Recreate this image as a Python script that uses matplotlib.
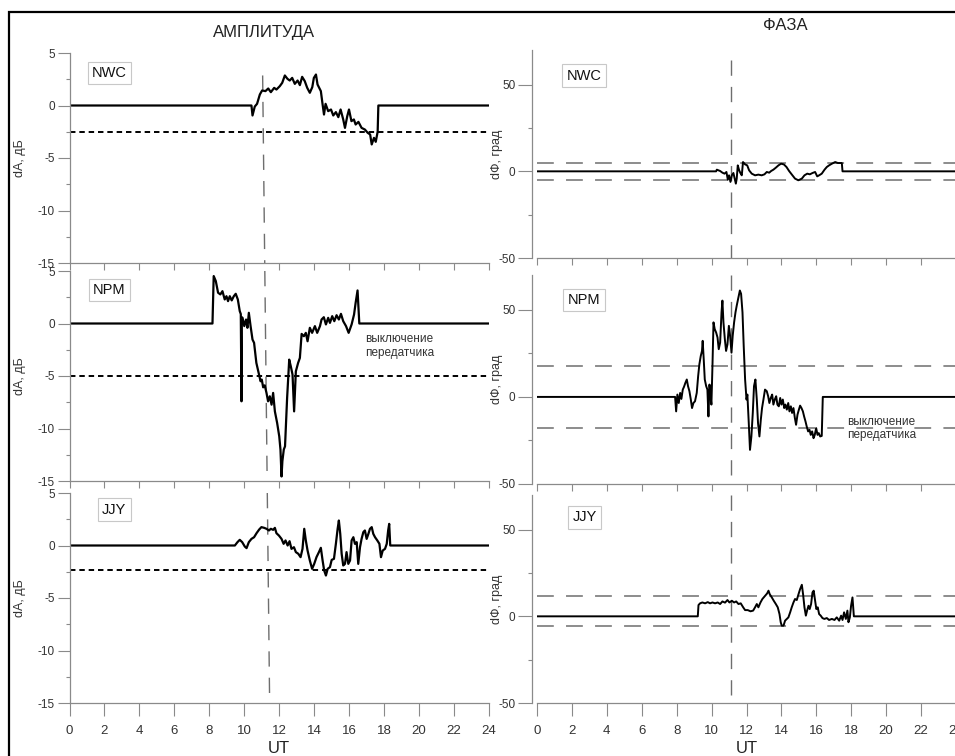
import numpy as np
import matplotlib
matplotlib.use("Agg")
import matplotlib.pyplot as plt
from matplotlib.ticker import MultipleLocator
from matplotlib.patches import Rectangle

plt.rcParams['font.family'] = ['Liberation Sans', 'DejaVu Sans']
plt.rcParams['axes.unicode_minus'] = False

# --- data: (UT hours, value) ---
amp_nwc = np.array([
    [0, 0], [10.41, 0], [10.47, -0.95], [10.6, -0.1], [10.73, 0.16], [10.89, 1.05],
    [11.02, 1.43], [11.21, 1.37], [11.37, 1.62], [11.52, 1.27], [11.71, 1.68],
    [11.84, 1.52], [12.03, 1.84], [12.17, 2.16], [12.32, 2.86], [12.47, 2.54],
    [12.6, 2.38], [12.74, 2.63], [12.89, 2.06], [13.05, 2.38], [13.18, 1.94],
    [13.31, 2.73], [13.46, 2.32], [13.6, 1.68], [13.75, 1.21], [13.89, 1.75],
    [13.98, 2.63], [14.1, 2.95], [14.19, 2.0], [14.38, 1.37], [14.48, 0.1],
    [14.56, -0.86], [14.65, 0.16], [14.8, -0.54], [14.96, -0.38], [15.09, -0.95],
    [15.24, -0.63], [15.38, -1.11], [15.51, -0.38], [15.66, -1.33], [15.76, -2.13],
    [15.89, -1.02], [15.99, -0.38], [16.13, -1.49], [16.27, -1.33], [16.37, -1.81],
    [16.53, -1.56], [16.71, -2.13], [16.9, -2.29], [17.06, -2.6], [17.2, -2.76],
    [17.29, -3.71], [17.42, -3.08], [17.52, -3.46], [17.63, -2.5], [17.67, 0],
    [24, 0]])

amp_npm = np.array([
    [0, 0], [8.18, 0], [8.25, 4.52], [8.37, 4.04], [8.5, 2.93], [8.63, 2.77],
    [8.75, 3.08], [8.88, 2.29], [8.98, 2.6], [9.07, 2.13], [9.17, 2.6], [9.28, 2.2],
    [9.4, 2.6], [9.51, 2.83], [9.63, 2.29], [9.74, 1.18], [9.8, 0.9], [9.84, -7.41],
    [9.86, 0.6], [9.9, 0.54], [10.0, -0.25], [10.1, 0.38], [10.18, -0.41],
    [10.26, 1.02], [10.36, -0.25], [10.47, -1.53], [10.56, -1.84], [10.69, -3.75],
    [10.8, -4.55], [10.93, -5.5], [11.0, -5.34], [11.08, -6.08], [11.17, -5.89],
    [11.27, -6.61], [11.36, -7.41], [11.46, -6.93], [11.56, -7.73], [11.65, -6.61],
    [11.75, -8.37], [11.88, -9.48], [12.0, -10.75], [12.07, -12.02], [12.13, -14.57],
    [12.18, -13.1], [12.26, -12.0], [12.33, -11.7], [12.45, -7.09], [12.57, -3.44],
    [12.66, -4.07], [12.76, -4.87], [12.85, -8.37], [12.95, -4.55], [13.08, -3.75],
    [13.18, -3.28], [13.28, -0.99], [13.41, -1.21], [13.52, -0.89], [13.62, -1.69],
    [13.75, -0.41], [13.88, -0.89], [14.04, -0.25], [14.17, -0.89], [14.33, -0.25],
    [14.42, 0.38], [14.55, 0.6], [14.67, -0.09], [14.8, 0.54], [14.9, 0.06],
    [15.03, 0.7], [15.15, 0.22], [15.28, 0.79], [15.41, 0.38], [15.53, 0.92],
    [15.66, 0.22], [15.82, -0.25], [15.97, -0.89], [16.14, -0.09], [16.28, 0.86],
    [16.37, 1.97], [16.48, 3.15], [16.58, 0], [24, 0]])

amp_jjy = np.array([
    [0, 0], [9.46, 0], [9.61, 0.32], [9.74, 0.54], [9.88, 0.32], [10.03, -0.1],
    [10.13, -0.25], [10.26, 0.32], [10.41, 0.63], [10.56, 0.79], [10.7, 1.17],
    [10.85, 1.52], [10.98, 1.75], [11.14, 1.68], [11.27, 1.59], [11.41, 1.43],
    [11.52, 1.59], [11.65, 1.49], [11.75, 1.68], [11.84, 1.17], [11.98, 0.95],
    [12.13, 0.63], [12.25, 0.16], [12.36, 0.48], [12.48, 0], [12.59, 0.41],
    [12.7, -0.32], [12.84, -0.16], [12.95, -0.63], [13.09, -0.79], [13.22, -1.11],
    [13.33, -0.32], [13.43, 1.59], [13.52, 0.48], [13.62, -0.48], [13.75, -1.43],
    [13.88, -2.22], [14.0, -1.75], [14.13, -1.11], [14.27, -0.63], [14.38, -0.22],
    [14.48, -1.43], [14.57, -2.38], [14.67, -2.86], [14.77, -2.22], [14.9, -2.06],
    [15.0, -1.37], [15.13, -1.27], [15.24, 0.16], [15.34, 1.59], [15.41, 2.38],
    [15.49, 1.11], [15.57, -0.79], [15.66, -1.9], [15.76, -1.75], [15.85, -0.63],
    [15.95, -1.75], [16.05, -1.43], [16.14, 0.48], [16.24, 0.79], [16.33, 0.16],
    [16.43, 0.32], [16.52, -1.75], [16.62, -0.16], [16.71, 0.63], [16.81, 1.27],
    [16.9, 1.43], [17.0, 0.63], [17.1, 1.11], [17.19, 1.59], [17.29, 1.75],
    [17.38, 1.11], [17.48, 0.79], [17.61, 0.48], [17.73, 0.16], [17.82, -1.11],
    [17.92, -0.48], [18.05, -0.32], [18.15, 0.16], [18.23, 1.43], [18.29, 2.06],
    [18.35, 0], [24, 0]])

ph_nwc = np.array([
    [0, 0], [10.26, 0], [10.3, 0.96], [10.49, 0.19], [10.62, -0.77], [10.74, -1.34],
    [10.85, -0.38], [10.93, -4.8], [11.0, -2.3], [11.08, -6.1], [11.16, -2.3],
    [11.25, -0.96], [11.31, -3.64], [11.39, -7.1], [11.44, -4.2], [11.5, 3.45],
    [11.58, 0.57], [11.65, -0.96], [11.73, -2.3], [11.8, 5.36], [11.92, 4.0],
    [12.04, 3.45], [12.15, 0.57], [12.3, -1.34], [12.49, -2.3], [12.68, -1.9],
    [12.87, -2.3], [13.03, -1.72], [13.16, -0.38], [13.3, -0.77], [13.41, 0.19],
    [13.54, 0.96], [13.68, 2.1], [13.83, 3.45], [13.98, 4.4], [14.14, 4.0],
    [14.29, 2.5], [14.44, 0.19], [14.6, -1.9], [14.78, -4.2], [14.97, -5.17],
    [15.17, -4.2], [15.32, -2.3], [15.48, -1.34], [15.63, -1.72], [15.78, -0.96],
    [15.93, -0.38], [16.05, -2.9], [16.16, -2.3], [16.31, -1.34], [16.47, 0.96],
    [16.6, 2.5], [16.73, 3.45], [16.89, 4.4], [17.08, 5.36], [17.23, 4.8],
    [17.46, 4.8], [17.5, 0], [24, 0]])

ph_npm = np.array([
    [0, 0], [7.91, 0], [7.97, -8.3], [8.04, 1.35], [8.12, -3.5], [8.2, 2.3],
    [8.27, -1.16], [8.35, 4.2], [8.42, 5.8], [8.5, 8.1], [8.58, 10.0], [8.65, 6.2],
    [8.73, 3.3], [8.81, -1.5], [8.88, -6.4], [8.96, -3.5], [9.05, -2.5], [9.15, 2.3],
    [9.23, 11.9], [9.3, 18.7], [9.38, 23.5], [9.45, 26.4], [9.49, 32.2], [9.55, 21.6],
    [9.61, 10.0], [9.69, 6.2], [9.76, 4.2], [9.82, -11.2], [9.88, 7.1], [9.93, 1.35],
    [9.99, -4.4], [10.05, 17.7], [10.11, 42.8], [10.18, 38.9], [10.26, 37.0],
    [10.34, 34.1], [10.41, 27.4], [10.49, 31.2], [10.57, 48.6], [10.62, 55.3],
    [10.68, 42.8], [10.76, 33.1], [10.83, 26.4], [10.91, 30.2], [10.99, 40.8],
    [11.06, 35.1], [11.14, 25.4], [11.21, 35.1], [11.29, 42.8], [11.37, 48.6],
    [11.44, 52.4], [11.52, 56.3], [11.62, 61.1], [11.69, 59.2], [11.77, 48.6],
    [11.84, 29.3], [11.92, 10.0], [12.0, -1.5], [12.05, 1.35], [12.13, -15.0],
    [12.2, -30.4], [12.28, -22.7], [12.36, -9.2], [12.43, 6.2], [12.51, 10.0],
    [12.59, -1.5], [12.66, -15.0], [12.74, -22.7], [12.82, -13.1], [12.89, -6.4],
    [12.97, -1.5], [13.06, 4.2], [13.16, 3.3], [13.24, 0.4], [13.31, -3.5],
    [13.39, -0.6], [13.47, 1.35], [13.54, -4.4], [13.62, -1.5], [13.7, 0.4],
    [13.77, -4.4], [13.85, -5.4], [13.93, -0.6], [14.0, -4.4], [14.08, -1.5],
    [14.16, -6.4], [14.23, -4.4], [14.31, -7.3], [14.39, -3.5], [14.46, -8.3],
    [14.54, -5.4], [14.61, -9.2], [14.69, -6.4], [14.77, -12.1], [14.84, -16.0],
    [14.92, -10.2], [15.0, -7.3], [15.07, -5.0], [15.15, -6.4], [15.23, -8.3],
    [15.3, -11.2], [15.38, -14.1], [15.45, -17.0], [15.53, -19.8], [15.61, -18.9],
    [15.68, -21.8], [15.76, -19.8], [15.84, -23.7], [15.91, -21.8], [15.99, -17.9],
    [16.07, -21.8], [16.14, -20.8], [16.22, -22.7], [16.31, -22.4], [16.37, 0],
    [24, 0]])

ph_jjy = np.array([
    [0, 0], [9.21, 0], [9.25, 6.5], [9.34, 7.5], [9.47, 8.0], [9.63, 7.5],
    [9.78, 8.2], [9.91, 7.5], [10.05, 8.0], [10.2, 7.5], [10.35, 8.0], [10.49, 7.1],
    [10.62, 8.6], [10.77, 7.9], [10.91, 9.4], [11.02, 8.0], [11.16, 9.0],
    [11.29, 8.0], [11.41, 8.6], [11.54, 7.1], [11.67, 7.5], [11.81, 5.2],
    [11.92, 3.6], [12.07, 3.6], [12.23, 2.9], [12.38, 3.3], [12.49, 5.2],
    [12.59, 7.1], [12.68, 5.2], [12.8, 8.0], [12.91, 10.0], [13.07, 11.9],
    [13.18, 13.2], [13.26, 14.8], [13.33, 12.8], [13.45, 10.9], [13.56, 9.0],
    [13.68, 7.1], [13.79, 5.2], [13.89, 1.3], [13.96, -3.4], [14.02, -5.4],
    [14.12, -5.4], [14.21, -2.5], [14.31, -1.5], [14.4, -0.6], [14.5, 2.3],
    [14.59, 5.2], [14.69, 8.0], [14.78, 10.0], [14.88, 9.4], [14.98, 12.8],
    [15.07, 15.7], [15.17, 18.2], [15.24, 12.8], [15.32, 5.2], [15.4, 0.4],
    [15.47, 3.3], [15.55, 6.1], [15.62, 4.2], [15.7, 7.1], [15.78, 13.8],
    [15.85, 14.8], [15.93, 9.0], [16.0, 4.2], [16.08, 5.2], [16.16, 1.3],
    [16.25, 0.4], [16.35, -1.0], [16.46, -1.5], [16.6, -1.0], [16.73, -2.1],
    [16.89, -1.5], [17.04, -2.1], [17.17, -0.6], [17.31, -2.5], [17.42, 0.4],
    [17.5, -2.1], [17.59, 2.3], [17.69, -1.5], [17.78, 3.3], [17.84, -3.4],
    [17.92, -0.6], [17.99, 6.1], [18.07, 10.9], [18.15, 0], [24, 0]])

stations = ['NWC', 'NPM', 'JJY']
amp_series = [amp_nwc, amp_npm, amp_jjy]
ph_series = [ph_nwc, ph_npm, ph_jjy]
amp_thresh = [-2.5, -5.0, -2.3]
ph_thresh = [(5, -5), (18, -18), (12, -5.5)]
amp_event = (11.05, 11.45)   # slanted marker line, top / bottom
ph_event = 11.12
x_ticks = list(range(0, 25, 2))

W, H = 955, 756
fig = plt.figure(figsize=(W / 100, H / 100), dpi=100)

GRAY = '#8a8a8a'
DASH = '#6e6e6e'


def px_axes(x0, y0, x1, y1):
    return fig.add_axes([x0 / W, 1 - y1 / H, (x1 - x0) / W, (y1 - y0) / H])


def style(ax, bottom_row, ylen):
    for s in ['top', 'right']:
        ax.spines[s].set_visible(False)
    for s in ['left', 'bottom']:
        ax.spines[s].set_color(GRAY)
        ax.spines[s].set_linewidth(0.9)
    ax.set_xlim(0, 24)
    ax.set_xticks(x_ticks)
    ax.tick_params(axis='y', which='major', length=ylen, width=0.8, color=GRAY,
                   labelsize=8.5, labelcolor='#333333', pad=2)
    ax.tick_params(axis='y', which='minor', length=3, width=0.8, color=GRAY)
    ax.tick_params(axis='x', length=9.5 if bottom_row else 5, width=0.8,
                   color=GRAY, labelsize=9.5, labelcolor='#333333', pad=6,
                   labelbottom=bottom_row)


def station_box(ax, name, x, y):
    ax.text(x, y, name, transform=ax.transAxes, ha='center', va='center',
            fontsize=10.5, color='#111111',
            bbox=dict(boxstyle='square,pad=0.3', fc='white', ec='#c8c8c8', lw=0.8))


left_rows = [(53, 263), (271, 481), (493, 703)]
right_rows = [(50, 258), (275, 484), (495, 703)]
left_box = [(0.095, 0.905), (0.095, 0.91), (0.107, 0.921)]
right_box = [(0.112, 0.877), (0.112, 0.88), (0.114, 0.892)]

# event line positions for the slanted left marker
y_top_px, y_bot_px = 76, 703


def event_x(ypx):
    return amp_event[0] + (ypx - y_top_px) / (y_bot_px - y_top_px) * (amp_event[1] - amp_event[0])


for i, name in enumerate(stations):
    # amplitude column
    y0, y1 = left_rows[i]
    ax = px_axes(69.5, y0, 489, y1)
    style(ax, i == 2, 8.6)
    ax.set_ylim(-15, 5)
    ax.yaxis.set_major_locator(MultipleLocator(5))
    ax.yaxis.set_minor_locator(MultipleLocator(2.5))
    ax.axhline(amp_thresh[i], color='black', lw=1.4, ls=(0, (2.8, 2.0)))
    if i == 0:
        ax.plot([event_x(y_top_px), event_x(y1)], [2.86, -15], color=DASH, lw=1.0,
                ls=(0, (11, 8)), clip_on=False)
    else:
        ax.plot([event_x(y0), event_x(y1)], [5, -15], color=DASH, lw=1.0,
                ls=(0, (11, 8)), clip_on=False)
    d = amp_series[i]
    ax.plot(d[:, 0], d[:, 1], color='black', lw=1.6, solid_joinstyle='round')
    ax.set_ylabel('dA, дБ', fontsize=9, color='#333333')
    ax.yaxis.set_label_coords(-0.104, 0.5)
    station_box(ax, name, *left_box[i])
    if i == 1:
        ax.text(16.9, -0.95, 'выключение\nпередатчика', fontsize=8.5,
                color='#333333', va='top', ha='left', linespacing=1.15)
    if i == 2:
        ax.set_xlabel('UT', fontsize=12, color='#222222', labelpad=3)

    # phase column
    y0, y1 = right_rows[i]
    ax = px_axes(537, y0, 956, y1)
    style(ax, i == 2, 10)
    ax.spines['left'].set_position(('outward', 3.6))
    ax.set_ylim(-50, 70)
    ax.yaxis.set_major_locator(MultipleLocator(50))
    ax.yaxis.set_minor_locator(MultipleLocator(25))
    for lvl in ph_thresh[i]:
        ax.axhline(lvl, color=DASH, lw=1.1, ls=(0, (11, 8)))
    top_v = 64 if i == 0 else 70
    ax.plot([ph_event, ph_event], [top_v, -50], color=DASH, lw=1.0,
            ls=(0, (11, 8)), clip_on=False)
    d = ph_series[i]
    ax.plot(d[:, 0], d[:, 1], color='black', lw=1.4, solid_joinstyle='round')
    ax.set_ylabel('dФ, град', fontsize=9, color='#333333')
    ax.yaxis.set_label_coords(-0.08, 0.5)
    station_box(ax, name, *right_box[i])
    if i == 1:
        ax.text(17.77, -11.0, 'выключение\nпередатчика', fontsize=8.5,
                color='#333333', va='top', ha='left', linespacing=1.15)
    if i == 2:
        ax.set_xlabel('UT', fontsize=12, color='#222222', labelpad=3)

fig.text(264 / W, 1 - 32 / H, 'АМПЛИТУДА', fontsize=12, ha='center', va='center',
         color='#222222')
fig.text(785 / W, 1 - 25 / H, 'ФАЗА', fontsize=12, ha='center', va='center',
         color='#222222')

# outer frame of the figure
fig.patches.append(Rectangle((9 / W, -0.05), 1.1, 1 - 12 / H + 0.05,
                             transform=fig.transFigure, fill=False,
                             ec='black', lw=1.6, zorder=10))

fig.savefig('out.png', dpi=100)
